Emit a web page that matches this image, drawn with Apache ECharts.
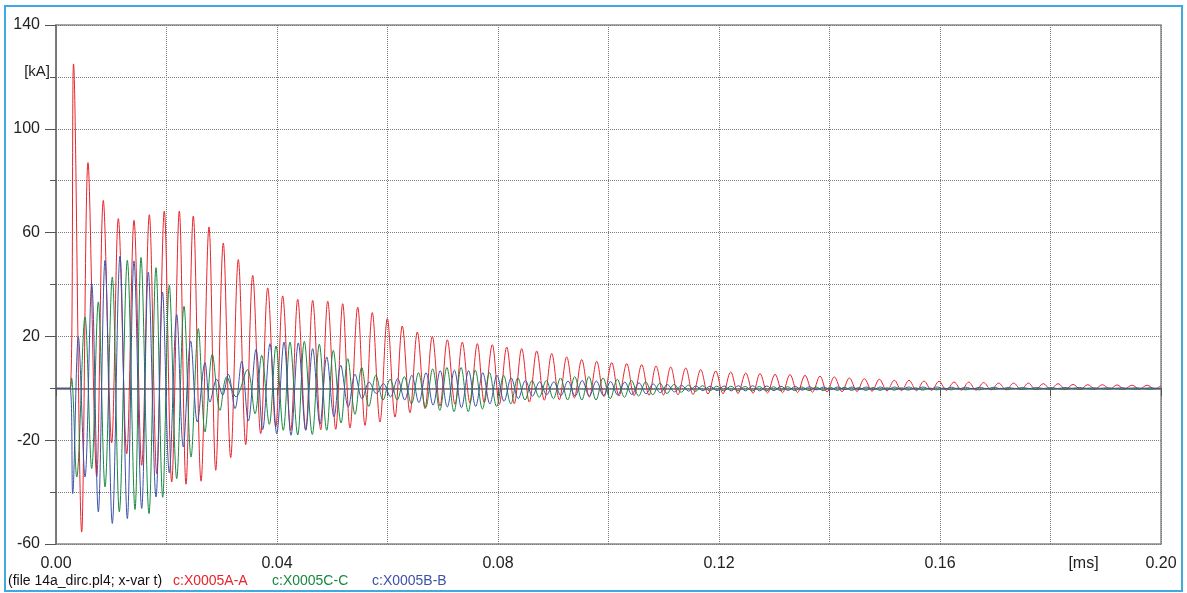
<!DOCTYPE html>
<html><head><meta charset="utf-8">
<script src="https://cdn.jsdelivr.net/npm/echarts@6/dist/echarts.min.js"></script>
<style>
html,body{margin:0;padding:0;background:#fff;}
#c{width:1187px;height:593px;position:absolute;left:0;top:0;}
#frame{position:absolute;left:4px;top:5px;width:1179px;height:587px;border:2.5px solid #3FAAE2;box-sizing:border-box;pointer-events:none;}
</style>
</head><body><div id="c"></div><div id="frame"></div>
<script>
// time in microseconds, current in kA (peaks and troughs)
const redPts = [[0,0],[2.53,0],[3.17,125],[4.65,-55.4],[5.79,87],[7.37,-34],[8.56,72.4],[10.08,-21],[11.28,65.4],[12.80,-25.2],[14.12,64.7],[15.51,-29.7],[16.89,66.9],[18.23,-32.9],[19.60,68.3],[20.94,-36.1],[22.32,68.3],[23.53,-37.0],[24.85,66.4],[26.25,-35.8],[27.69,62.2],[28.91,-31.6],[30.28,56.0],[31.62,-26.7],[33.00,49.6],[34.34,-21.7],[35.60,43.5],[37.05,-17.5],[38.32,38.7],[39.77,-14.9],[41.03,35.6],[42.48,-16.2],[43.75,34.3],[45.20,-16],[46.46,33.9],[47.91,-16],[49.18,33.6],[50.63,-15.8],[51.89,32.6],[53.21,-15.3],[54.61,31.3],[55.93,-14.3],[57.25,29.2],[58.64,-13.0],[59.97,26.9],[61.36,-11.1],[62.68,24.0],[64.07,-9.4],[65.40,21.7],[66.79,-7.8],[68.11,20.0],[69.50,-6.9],[70.83,18.7],[72.22,-6.2],[73.54,17.8],[74.93,-5.7],[76.26,17.2],[77.52,-5.5],[78.97,16.8],[80.24,-6.2],[81.58,15.9],[82.95,-5.9],[84.29,15.3],[85.67,-5.3],[87.01,14.4],[88.38,-4.6],[89.72,13.4],[91.10,-4.4],[92.44,12.1],[93.81,-3.7],[95.15,11.1],[96.53,-3.4],[97.87,10.4],[99.19,-3.2],[100.58,9.9],[101.90,-3.0],[103.30,9.5],[104.62,-2.8],[106.01,9.1],[107.33,-2.7],[108.60,8.6],[109.96,-2.6],[111.26,8.2],[112.58,-2.5],[113.98,7.8],[115.30,-2.4],[116.69,7.2],[118.01,-2.2],[119.41,6.7],[120.73,-2.1],[122.12,6.3],[123.44,-2.0],[124.84,5.9],[126.16,-1.9],[127.42,5.7],[128.78,-1.8],[130.14,5.4],[131.50,-1.7],[132.85,5.3],[134.21,-1.6],[135.57,5.0],[136.93,-1.5],[138.28,4.7],[139.55,-1.4],[140.87,4.4],[142.27,-1.3],[143.59,4.0],[144.98,-1.2],[146.30,3.7],[147.70,-1.1],[149.02,3.5],[150.41,-1.0],[151.73,3.1],[153.04,-0.9],[154.39,3.1],[155.75,-0.9],[157.11,2.8],[158.47,-0.8],[159.82,2.7],[161.18,-0.8],[162.54,2.4],[163.90,-0.7],[165.20,2.4],[166.52,-0.7],[167.91,2.2],[169.24,-0.6],[170.63,2.0],[171.95,-0.6],[173.34,2.0],[174.67,-0.5],[175.99,2.0],[177.29,-0.5],[178.70,1.8],[180.00,-0.4],[181.36,1.8],[182.72,-0.4],[184.08,1.5],[185.43,-0.4],[186.74,1.4],[188.06,-0.3],[189.38,1.4],[190.77,-0.3],[192.04,1.3],[193.40,-0.3],[194.76,1.2],[196.11,-0.3],[197.47,1.2],[198.83,-0.2],[200.0,1.0]];

const greenPts = [[0,0],[2.53,0],[2.81,4],[3.75,-34.2],[5.25,27.5],[6.46,-30.9],[7.66,33.3],[8.87,-38.0],[10.19,42.9],[11.46,-47.6],[12.91,49.3],[14.30,-46.7],[15.39,50.4],[16.83,-48.3],[18.10,46.5],[19.31,-42],[20.51,39.7],[21.85,-34.8],[23.17,31.6],[24.44,-26.5],[25.76,23.0],[26.97,-16.8],[28.29,13.1],[29.68,-8.5],[30.90,4.4],[32.58,-3.3],[34.63,7.2],[36.02,-9.8],[37.23,12.7],[38.61,-13.9],[39.82,16.3],[41.14,-16.2],[42.35,17.8],[43.75,-18.0],[44.94,18.1],[46.39,-17.8],[47.66,17.0],[49.00,-16.2],[50.19,14.6],[51.59,-13.4],[52.80,11.4],[54.12,-10],[55.33,8.0],[56.62,-7],[57.90,5],[59.19,-4.5],[60.47,3.5],[61.76,-4.5],[63.04,4.5],[64.33,-6],[65.61,6],[66.90,-7.5],[68.18,7.5],[69.47,-8.5],[70.75,8],[72.04,-9],[73.32,8],[74.61,-9],[75.89,7],[77.18,-8],[78.46,6],[79.75,-7],[81.03,5],[82.32,-6],[83.60,4],[84.89,-4.5],[86.17,3],[87.46,-3.5],[88.74,3],[90.03,-4],[91.31,4],[92.60,-4.5],[93.88,4.5],[95.17,-4.5],[96.45,4.5],[97.74,-4.5],[99.02,4],[100.31,-4],[101.59,3.5],[102.88,-3.5],[104.16,3],[105.45,-3],[106.73,2.5],[108.02,-2.5],[109.30,2],[110.59,-2],[111.87,1.5],[113.16,-1.5],[114.44,1.2],[115.73,-1.2],[117.01,1],[118.30,-1],[119.59,0.8],[120.87,-1.0],[122.16,0.8],[123.44,-1.0],[124.73,0.7],[126.01,-1.0],[127.30,0.7],[128.58,-1.0],[129.87,0.6],[131.15,-0.9],[132.44,0.6],[133.72,-0.9],[135.01,0.5],[136.29,-0.9],[137.58,0.5],[138.86,-0.9],[140.15,0.4],[141.43,-0.8],[142.72,0.4],[144.00,-0.8],[145.29,0.3],[146.57,-0.8],[147.86,0.3],[149.14,-0.8],[150.43,0.2],[151.71,-0.7],[153.00,0.2],[154.28,-0.7],[155.57,0.2],[156.85,-0.7],[158.14,0.1],[159.42,-0.6],[160.71,0.1],[161.99,-0.6],[163.28,0.1],[164.56,-0.6],[165.85,0],[167.13,-0.6],[168.42,0],[169.70,-0.5],[170.99,0],[172.27,-0.5],[173.56,0],[174.84,-0.5],[176.13,-0.1],[177.41,-0.5],[178.70,-0.1],[179.98,-0.5],[181.27,-0.1],[182.55,-0.5],[183.84,-0.1],[185.12,-0.4],[186.41,-0.1],[187.69,-0.4],[188.98,-0.1],[190.26,-0.4],[191.55,-0.1],[192.83,-0.4],[194.12,-0.1],[195.40,-0.4],[196.69,-0.1],[197.97,-0.4],[199.26,-0.1],[200,-0.2]];

const bluePts = [[0,0],[2.53,0],[3.02,-40.6],[4.04,19.8],[5.25,-34.2],[6.46,40.3],[7.66,-47.6],[8.87,49.3],[10.19,-52.1],[11.58,50.9],[12.91,-50.2],[14.12,49.1],[15.51,-46.3],[16.71,44.8],[18.1,-41.9],[19.28,37.1],[20.51,-32.6],[21.85,28.4],[23.04,-22.6],[24.38,18.2],[25.58,-13.0],[26.97,9.9],[27.87,-5.3],[29.09,3.5],[30.17,-2.6],[31.19,5.4],[32.40,-7.8],[33.61,10.4],[34.81,-12.6],[36.20,15.0],[37.41,-15.9],[38.73,17.2],[39.95,-17.5],[41.27,17.8],[42.54,-18.1],[43.86,17.5],[45.20,-16.2],[46.46,15.3],[47.78,-13.9],[49.00,12.1],[50.32,-11.0],[51.53,8.9],[52.91,-7.2],[54.12,5.4],[55.40,-4.0],[56.69,2.4],[57.97,-2.0],[59.26,1.8],[60.54,-3.3],[61.83,3.7],[63.11,-4.5],[64.40,5],[65.68,-5.5],[66.97,6],[68.25,-6.5],[69.54,6.8],[70.82,-7.2],[72.11,7],[73.39,-7.5],[74.68,6.8],[75.96,-7],[77.25,6],[78.53,-6],[79.82,5],[81.10,-5],[82.39,4],[83.67,-4],[84.96,3],[86.24,-3],[87.53,2.5],[88.81,-2.5],[90.10,2.5],[91.38,-2.8],[92.67,2.8],[93.95,-3],[95.24,3],[96.52,-3],[97.81,2.8],[99.09,-2.8],[100.38,2.6],[101.66,-2.6],[102.95,2.4],[104.23,-2.4],[105.52,2.1],[106.80,-2.1],[108.09,1.7],[109.37,-1.7],[110.66,1.4],[111.94,-1.4],[113.23,1.1],[114.51,-1.1],[115.80,0.9],[117.08,-0.9],[118.37,0.8],[119.65,-0.9],[120.94,0.9],[122.22,-1],[123.51,1],[124.79,-1],[126.08,1],[127.36,-1],[128.65,0.9],[129.93,-0.9],[131.22,0.8],[132.50,-0.8],[133.79,0.7],[135.07,-0.7],[136.36,0.6],[137.64,-0.6],[138.93,0.5],[140.21,-0.5],[141.50,0.5],[142.78,-0.5],[144.07,0.5],[145.35,-0.5],[146.64,0.5],[147.92,-0.5],[149.21,0.5],[150.49,-0.5],[151.78,0.5],[153.06,-0.4],[154.35,0.5],[155.63,-0.4],[156.92,0.5],[158.20,-0.3],[159.49,0.5],[160.77,-0.3],[162.06,0.4],[163.34,-0.3],[164.63,0.4],[165.91,-0.2],[167.20,0.4],[168.48,-0.2],[169.77,0.4],[171.05,-0.2],[172.34,0.3],[173.62,-0.1],[174.91,0.3],[176.19,-0.1],[177.48,0.3],[178.76,-0.1],[180.05,0.3],[181.33,-0.1],[182.62,0.3],[183.90,0],[185.19,0.3],[186.47,0],[187.76,0.2],[189.04,0],[190.33,0.2],[191.61,0],[192.90,0.2],[194.18,0],[195.47,0.2],[196.75,0],[198.04,0.2],[199.32,0],[200,0.1]];

const seriesNames = ['c:X0005A-A','c:X0005C-C','c:X0005B-B'];
const seriesColors = ['#E8242C','#17893F','#3D52A8'];
const fileLabel = '(file 14a_dirc.pl4; x-var t)';
const xUnit = '[ms]', yUnit = '[kA]';
const xLabelEvery = 0.04, yLabelEvery = 40;

const FONT = "'Liberation Sans', Arial, sans-serif";
const toMs = pts => pts.map(p => [p[0] / 1000, p[1]]);

const chart = echarts.init(document.getElementById('c'), null, {renderer: 'canvas'});
const mk = (name, pts, color) => ({
  name, type: 'line', data: toMs(pts), showSymbol: false, smooth: 0.35,
  lineStyle: {color, width: 1}, itemStyle: {color}, animation: false, clip: true, z: 3
});

chart.setOption({
  animation: false,
  grid: {left: 56, right: 26, top: 25, bottom: 49, show: true, borderColor: '#8a8a8a', borderWidth: 1.5, backgroundColor: 'transparent'},
  xAxis: {
    type: 'value', min: 0, max: 0.2, interval: 0.02,
    axisLine: {show: true, lineStyle: {color: '#6e6e6e', width: 1.5}},
    axisTick: {show: true, length: 8, lineStyle: {color: '#555', width: 1}},
    splitLine: {show: true, lineStyle: {color: '#7a7a7a', width: 1, type: [1, 1]}},
    axisLabel: {
      margin: 12, color: '#222', fontSize: 16, fontFamily: FONT, showMaxLabel: true, showMinLabel: true,
      formatter: v => {
        const k = Math.round(v * 100);
        if (k === 18) return '{u|' + xUnit + '}';
        if (k % Math.round(xLabelEvery * 100) === 0) return v.toFixed(2);
        return '';
      },
      rich: {u: {fontSize: 16, fontFamily: FONT, color: '#222', padding: [0, 0, 0, 66]}}
    }
  },
  yAxis: [{
    type: 'value', min: -60, max: 140, interval: 20,
    axisLine: {show: true, lineStyle: {color: '#6e6e6e', width: 1.5}},
    axisTick: {show: true, length: 6, lineStyle: {color: '#555', width: 1}},
    splitLine: {show: true, lineStyle: {color: '#7a7a7a', width: 1, type: [1, 1]}},
    axisLabel: {
      margin: 6, color: '#222', fontSize: 16, fontFamily: FONT, showMaxLabel: true,
      formatter: v => {
        if (v === 120) return '{u|' + yUnit + '}';
        if ((v + 60) % yLabelEvery === 0) return '{n|' + v + '}';
        return '';
      },
      rich: {
        n: {fontSize: 16, fontFamily: FONT, color: '#222', padding: [0, 10, 0, 0]},
        u: {fontSize: 15, fontFamily: FONT, color: '#222', padding: [0, 0, 10, 0]}
      }
    }
  }, {
    type: 'value', min: -60, max: 140, interval: 40, position: 'left',
    axisLine: {show: false}, splitLine: {show: false}, axisLabel: {show: false},
    axisTick: {show: true, length: 11, lineStyle: {color: '#555', width: 1}}
  }],
  series: [
    mk(seriesNames[0], redPts, seriesColors[0]),
    mk(seriesNames[1], greenPts, seriesColors[1]),
    mk(seriesNames[2], bluePts, seriesColors[2])
  ],
  graphic: [
    {type: 'text', left: 8, top: 574, style: {text: fileLabel, fill: '#111', font: '14px ' + FONT}},
    {type: 'text', left: 173, top: 574, style: {text: seriesNames[0], fill: seriesColors[0], font: '14px ' + FONT}},
    {type: 'text', left: 272, top: 574, style: {text: seriesNames[1], fill: seriesColors[1], font: '14px ' + FONT}},
    {type: 'text', left: 372, top: 574, style: {text: seriesNames[2], fill: seriesColors[2], font: '14px ' + FONT}}
  ]
});
</script>
</body></html>
